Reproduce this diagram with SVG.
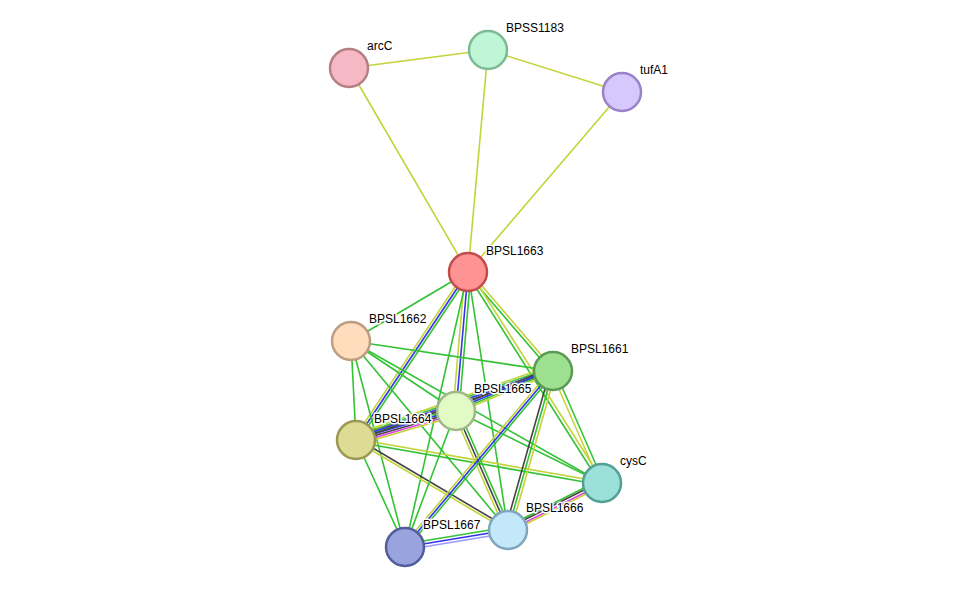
<svg xmlns="http://www.w3.org/2000/svg" width="975" height="592" viewBox="0 0 975 592">
<style>
line{stroke-width:1.6;fill:none}
.g{stroke:#33c233}.y{stroke:#c4d33a}.b{stroke:#3333ee}.k{stroke:#444}.m{stroke:#e040e0}.r{stroke:#ee3333}.l{stroke:#9999ff}
circle{stroke-width:2.5}
text{font-family:"Liberation Sans",Arial,sans-serif;font-size:12px;fill:#000;stroke:#fff;stroke-width:3;paint-order:stroke;stroke-linejoin:round}
</style>
<rect width="975" height="592" fill="#fff"/>
<g id="connectors">
<line class="y" x1="349" y1="68" x2="488" y2="50"/>
<line class="y" x1="349" y1="68" x2="468" y2="272"/>
<line class="y" x1="488" y1="50" x2="468" y2="272"/>
<line class="y" x1="488" y1="50" x2="622" y2="92"/>
<line class="y" x1="622" y1="92" x2="468" y2="272"/>
<line class="g" x1="468" y1="272" x2="351" y2="341"/>
<line class="y" x1="465" y1="272" x2="353" y2="440"/>
<line class="b" x1="468" y1="272" x2="356" y2="440"/>
<line class="g" x1="471" y1="272" x2="359" y2="440"/>
<line class="y" x1="465" y1="272" x2="453" y2="411"/>
<line class="b" x1="468" y1="272" x2="456" y2="411"/>
<line class="g" x1="471" y1="272" x2="459" y2="411"/>
<line class="g" x1="466" y1="272" x2="551" y2="371"/>
<line class="y" x1="470" y1="272" x2="555" y2="371"/>
<line class="g" x1="466" y1="272" x2="600" y2="483"/>
<line class="y" x1="470" y1="272" x2="604" y2="483"/>
<line class="g" x1="468" y1="272" x2="508" y2="530"/>
<line class="g" x1="468" y1="272" x2="405" y2="547"/>
<line class="g" x1="351" y1="341" x2="553" y2="371"/>
<line class="g" x1="351" y1="341" x2="356" y2="440"/>
<line class="g" x1="351" y1="341" x2="456" y2="411"/>
<line class="g" x1="351" y1="341" x2="508" y2="530"/>
<line class="g" x1="351" y1="341" x2="405" y2="547"/>
<line class="g" x1="351" y1="341" x2="602" y2="483"/>
<line class="r" x1="356" y1="435" x2="456" y2="406"/>
<line class="g" x1="356" y1="437" x2="456" y2="408"/>
<line class="b" x1="356" y1="439" x2="456" y2="410"/>
<line class="k" x1="356" y1="441" x2="456" y2="412"/>
<line class="m" x1="356" y1="443" x2="456" y2="414"/>
<line class="y" x1="356" y1="445" x2="456" y2="416"/>
<line class="y" x1="356" y1="434" x2="553" y2="365"/>
<line class="g" x1="356" y1="436" x2="553" y2="367"/>
<line class="b" x1="356" y1="438" x2="553" y2="369"/>
<line class="k" x1="356" y1="440" x2="553" y2="371"/>
<line class="k" x1="356" y1="438" x2="508" y2="528"/>
<line class="y" x1="356" y1="441" x2="508" y2="531"/>
<line class="g" x1="356" y1="440" x2="405" y2="547"/>
<line class="y" x1="356" y1="439" x2="602" y2="482"/>
<line class="g" x1="356" y1="442" x2="602" y2="485"/>
<line class="k" x1="456" y1="407" x2="553" y2="367"/>
<line class="b" x1="456" y1="409" x2="553" y2="369"/>
<line class="g" x1="456" y1="411" x2="553" y2="371"/>
<line class="y" x1="456" y1="413" x2="553" y2="373"/>
<line class="y" x1="453" y1="411" x2="505" y2="530"/>
<line class="k" x1="456" y1="411" x2="508" y2="530"/>
<line class="g" x1="459" y1="411" x2="511" y2="530"/>
<line class="g" x1="456" y1="411" x2="405" y2="547"/>
<line class="g" x1="456" y1="411" x2="602" y2="483"/>
<line class="k" x1="550" y1="371" x2="505" y2="530"/>
<line class="g" x1="553" y1="371" x2="508" y2="530"/>
<line class="y" x1="556" y1="371" x2="511" y2="530"/>
<line class="y" x1="550" y1="371" x2="402" y2="547"/>
<line class="b" x1="553" y1="371" x2="405" y2="547"/>
<line class="g" x1="556" y1="371" x2="408" y2="547"/>
<line class="y" x1="551" y1="371" x2="600" y2="483"/>
<line class="g" x1="555" y1="371" x2="604" y2="483"/>
<line class="g" x1="508" y1="526" x2="602" y2="479"/>
<line class="k" x1="508" y1="528" x2="602" y2="481"/>
<line class="m" x1="508" y1="531" x2="602" y2="484"/>
<line class="y" x1="508" y1="533" x2="602" y2="486"/>
<line class="g" x1="508" y1="527" x2="405" y2="544"/>
<line class="b" x1="508" y1="530" x2="405" y2="547"/>
<line class="l" x1="508" y1="533" x2="405" y2="550"/>
</g>
<g id="arcC"><circle cx="349" cy="68" r="19" fill="#f5b8c4" stroke="#b38085"/><text x="367" y="50">arcC</text></g>
<g id="BPSS1183"><circle cx="488" cy="50" r="19" fill="#bff7d6" stroke="#7dba95"/><text x="506" y="32">BPSS1183</text></g>
<g id="tufA1"><circle cx="622" cy="92" r="19" fill="#d6c8fc" stroke="#9a82c9"/><text x="640" y="74">tufA1</text></g>
<g id="BPSL1663"><circle cx="468" cy="272" r="19" fill="#ff9393" stroke="#c04c4c"/><text x="486" y="255">BPSL1663</text></g>
<g id="BPSL1662"><circle cx="351" cy="341" r="19" fill="#fedcbc" stroke="#bc9d82"/><text x="369" y="323">BPSL1662</text></g>
<g id="BPSL1661"><circle cx="553" cy="371" r="19" fill="#9de08f" stroke="#5b9a54"/><text x="571" y="353">BPSL1661</text></g>
<g id="BPSL1665"><circle cx="456" cy="411" r="19" fill="#e2fac6" stroke="#a0b888"/><text x="474" y="393">BPSL1665</text></g>
<g id="BPSL1664"><circle cx="356" cy="440" r="19" fill="#dddc94" stroke="#999955"/><text x="374" y="423">BPSL1664</text></g>
<g id="cysC"><circle cx="602" cy="483" r="19" fill="#9be1d9" stroke="#52a093"/><text x="620" y="465">cysC</text></g>
<g id="BPSL1666"><circle cx="508" cy="530" r="19" fill="#c2e8fa" stroke="#7ea6bd"/><text x="526" y="512">BPSL1666</text></g>
<g id="BPSL1667"><circle cx="405" cy="547" r="19" fill="#99a3de" stroke="#545c9c"/><text x="423" y="529">BPSL1667</text></g>
</svg>
